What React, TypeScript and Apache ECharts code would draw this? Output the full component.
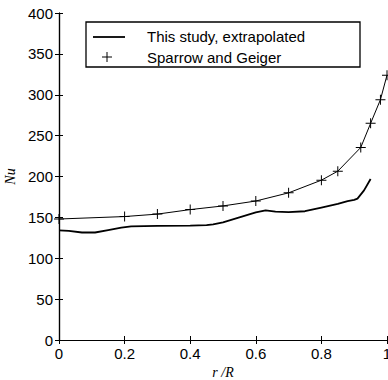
import React, { useEffect, useRef } from "react";
import * as echarts from "echarts";

// This study, extrapolated (thick solid line)
const studyR = [0, 0.03, 0.07, 0.11, 0.15, 0.19, 0.22, 0.3, 0.4, 0.45, 0.47, 0.5, 0.55, 0.6, 0.63, 0.66, 0.7, 0.75, 0.8, 0.85, 0.88, 0.9, 0.91, 0.93, 0.95];
const studyNu = [134, 133.5, 131.5, 131.5, 134.5, 137.5, 139, 139.5, 140, 140.5, 141.5, 144, 150, 156, 158.5, 157, 156.5, 157.5, 162, 166.5, 170, 171.5, 173, 183, 197];

// Sparrow and Geiger (thin line with + markers)
const sparrowR = [0, 0.2, 0.3, 0.4, 0.5, 0.6, 0.7, 0.8, 0.85, 0.92, 0.95, 0.98, 1.0];
const sparrowNu = [148, 151, 154, 159.5, 164, 170, 180, 195.5, 206.5, 235.5, 265, 294, 324];

const legendLabels = ["This study, extrapolated", "Sparrow and Geiger"];
const xName = "r /R";
const yName = "Nu";

const PLUS = "path://M4.5,0H5.5V4.5H10V5.5H5.5V10H4.5V5.5H0V4.5H4.5Z";
const SANS = '"Liberation Sans", Arial, Helvetica, sans-serif';
const SERIF = '"Liberation Serif", "Times New Roman", serif';

export default function App() {
  const ref = useRef<HTMLDivElement>(null);
  useEffect(() => {
    document.body.style.margin = "0";
    const chart = echarts.init(ref.current!, null, { renderer: "svg" });
    const axisLine = { show: true, lineStyle: { color: "#000", width: 1.2 } };
    const axisTick = { show: true, inside: true, length: 4, lineStyle: { color: "#000", width: 1 } };
    chart.setOption({
      animation: false,
      backgroundColor: "#fff",
      grid: { left: 59, top: 13, right: 1, bottom: 40, containLabel: false, outerBoundsMode: "none" },
      xAxis: [
        {
          type: "value",
          min: 0,
          max: 1,
          interval: 0.2,
          position: "bottom",
          axisLine,
          axisTick,
          splitLine: { show: false },
          axisLabel: {
            color: "#000",
            fontFamily: SANS,
            fontSize: 15,
            margin: 6,
            hideOverlap: false,
            formatter: (v: number) => (v === 0 || v === 1 ? String(v) : v.toFixed(1)),
          },
          name: xName,
          nameLocation: "middle",
          nameGap: 24,
          nameTextStyle: { color: "#000", fontFamily: SERIF, fontStyle: "italic", fontSize: 14 },
        },
        {
          type: "value",
          min: 0,
          max: 1,
          interval: 0.2,
          position: "top",
          axisLine,
          axisTick,
          splitLine: { show: false },
          axisLabel: { show: false },
        },
      ],
      yAxis: [
        {
          type: "value",
          min: 0,
          max: 400,
          interval: 50,
          position: "left",
          axisLine,
          axisTick,
          splitLine: { show: false },
          axisLabel: { color: "#000", fontFamily: SANS, fontSize: 15, margin: 6 },
          name: yName,
          nameLocation: "middle",
          nameGap: 36,
          nameRotate: 90,
          nameTextStyle: { color: "#000", fontFamily: SERIF, fontStyle: "italic", fontSize: 14 },
        },
        {
          type: "value",
          min: 0,
          max: 400,
          interval: 50,
          position: "right",
          axisLine,
          axisTick,
          splitLine: { show: false },
          axisLabel: { show: false },
        },
      ],
      series: [
        {
          name: legendLabels[0],
          type: "line",
          data: studyR.map((r, i) => [r, studyNu[i]]),
          showSymbol: false,
          symbol: "none",
          lineStyle: { color: "#000", width: 1.8 },
          clip: true,
        },
        {
          name: legendLabels[1],
          type: "line",
          data: sparrowR.map((r, i) => [r, sparrowNu[i]]),
          symbol: PLUS,
          symbolSize: 10,
          itemStyle: { color: "#000" },
          lineStyle: { color: "#000", width: 1 },
          clip: true,
        },
      ],
      graphic: [
        {
          type: "rect",
          shape: { x: 86, y: 22, width: 274, height: 45 },
          style: { fill: "#fff", stroke: "#000", lineWidth: 1.3 },
          z: 100,
        },
        {
          type: "line",
          shape: { x1: 93, y1: 37, x2: 125, y2: 37 },
          style: { stroke: "#000", lineWidth: 1.8 },
          z: 101,
        },
        {
          type: "line",
          shape: { x1: 102, y1: 57, x2: 112, y2: 57 },
          style: { stroke: "#000", lineWidth: 1 },
          z: 101,
        },
        {
          type: "line",
          shape: { x1: 107, y1: 52, x2: 107, y2: 62 },
          style: { stroke: "#000", lineWidth: 1 },
          z: 101,
        },
        {
          type: "text",
          x: 147,
          y: 36.5,
          style: { text: legendLabels[0], fill: "#000", font: `15px ${SANS}`, verticalAlign: "middle" },
          z: 101,
        },
        {
          type: "text",
          x: 147,
          y: 57,
          style: { text: legendLabels[1], fill: "#000", font: `15px ${SANS}`, verticalAlign: "middle" },
          z: 101,
        },
      ],
    });
    return () => chart.dispose();
  }, []);
  return <div ref={ref} style={{ width: 388, height: 380 }} />;
}
